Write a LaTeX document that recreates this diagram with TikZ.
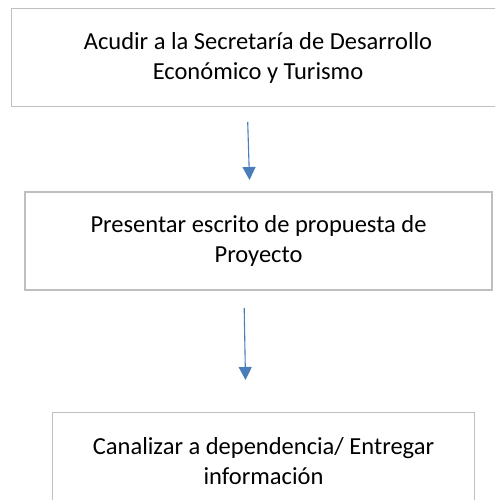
\documentclass[tikz,border=0pt]{standalone}
\usepackage{fontspec}
\setmainfont{Carlito}
\usetikzlibrary{arrows.meta,calc}
\definecolor{boxgray}{HTML}{BFBFBF}
\definecolor{arrowblue}{HTML}{4A7EBB}
\begin{document}
\begin{tikzpicture}[x=1pt,y=-1pt,
  boxline/.style={draw=boxgray,line width=1.3pt},
  stepbox/.style={boxline,fill=white,inner sep=0pt,
    align=center,font=\fontsize{24.5}{30}\selectfont},
  openbox/.style={inner sep=0pt,align=center,font=\fontsize{24.5}{30}\selectfont},
  flowarrow/.style={draw=arrowblue,line width=1.1pt,
    -{Triangle[width=13pt,length=13pt]}}]
\useasboundingbox (0,0) rectangle (495,500);
\clip (0,0) rectangle (495,500);
\node[openbox,minimum width=492pt,minimum height=97pt] (b1) at (258,57.5)
  {Acudir a la Secretaría de Desarrollo\\Económico y Turismo};
\draw[boxline] ($(b1.north east)+(10,0)$) -- (b1.north west) -- (b1.south west) -- ($(b1.south east)+(10,0)$);
\node[stepbox,minimum width=467pt,minimum height=98pt] (b2) at (258.5,241)
  {Presentar escrito de propuesta de\\Proyecto};
\node[openbox,minimum width=421pt,minimum height=97pt] (b3) at (263.5,461.5)
  {Canalizar a dependencia/ Entregar\\información};
\draw[boxline] ($(b3.south west)+(0,10)$) -- (b3.north west) -- (b3.north east) -- ($(b3.south east)+(0,10)$);
\coordinate (a1s) at (247.7,122);
\coordinate (a1e) at (249.5,180);
\coordinate (a2s) at (244.2,308);
\coordinate (a2e) at (245.5,380);
\draw[flowarrow] (a1s) -- (a1e);
\draw[flowarrow] (a2s) -- (a2e);
\end{tikzpicture}
\end{document}
